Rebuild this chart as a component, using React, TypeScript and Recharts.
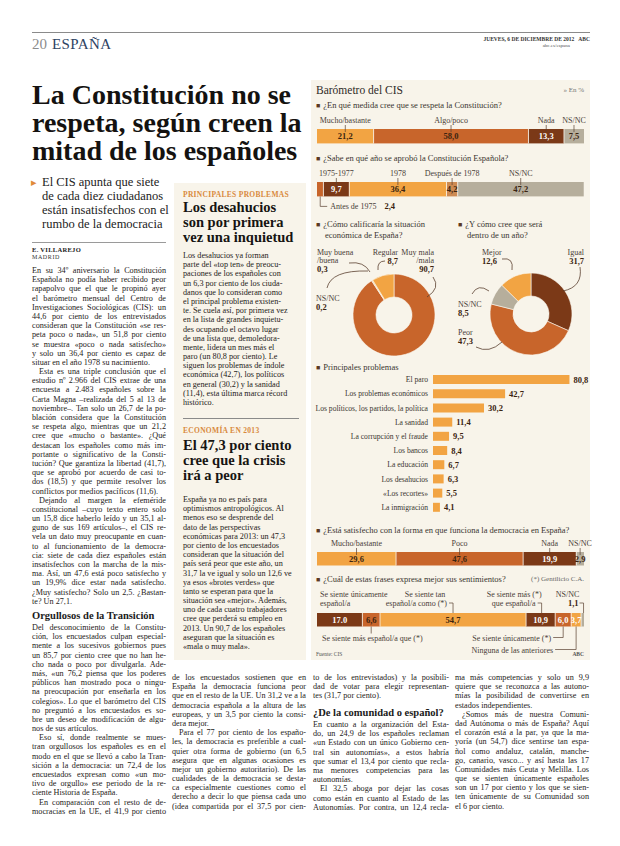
import React from 'react';
import { BarChart, Bar, XAxis, YAxis, PieChart, Pie, Cell, LabelList } from 'recharts';

const SERIF = '"Liberation Serif", "Times New Roman", serif';
const LIGHT = '#f2a443';
const RUST = '#c8652b';
const BROWN = '#7b3917';
const GRAY = '#b6ae9c';
const TAN = '#cd8a52';
const INK = '#3a3530';
const VAL_DARK = '#3b2410';
const LINE = '#5a4030';
const CREAM = '#f8f4ea';

// ---------- data ----------
const respetaLabels = ['Mucho/bastante', 'Algo/poco', 'Nada', 'NS/NC'];
const respetaValues = [21.2, 58.0, 13.3, 7.5];
const anioLabels = ['Antes de 1975', '1975-1977', '1978', 'Después de 1978', 'NS/NC'];
const anioValues = [2.4, 9.7, 36.4, 4.2, 47.2];
const situacionLabels = ['Muy mala|/mala', 'NS/NC', 'Muy buena|/buena', 'Regular'];
const situacionValues = [90.7, 0.2, 0.3, 8.7];
const futuroLabels = ['Igual', 'Peor', 'NS/NC', 'Mejor'];
const futuroValues = [31.7, 47.3, 8.5, 12.6];
const problemasLabels = [
  'El paro', 'Los problemas económicos', 'Los políticos, los partidos, la política', 'La sanidad',
  'La corrupción y el fraude', 'Los bancos', 'La educación', 'Los desahucios', '«Los recortes»', 'La inmigración',
];
const problemasValues = [80.8, 42.7, 30.2, 11.4, 9.5, 8.4, 6.7, 6.3, 5.5, 4.1];
const democraciaLabels = ['Mucho/bastante', 'Poco', 'Nada', 'NS/NC'];
const democraciaValues = [29.6, 47.6, 19.9, 2.9];
const sentimientoLabels = [
  'Se siente únicamente|español/a', 'Se siente más español/a que (*)', 'Se siente tan|español/a como (*)',
  'Se siente más (*)|que español/a', 'Se siente únicamente (*)', 'Ninguna de las anteriores', 'NS/NC',
];
const sentimientoValues = [17.0, 6.6, 54.7, 10.9, 6.0, 3.7, 1.1];
const sentimientoValueText = ['17.0', '6,6', '54,7', '10,9', '6,0', '3,7', ''];

const fmt = (v: number) => v.toFixed(1).replace('.', ',');

// ---------- text ----------
const deckLines = ['El CIS apunta que siete', 'de cada diez ciudadanos', 'están insatisfechos con el', 'rumbo de la democracia'];
const titleLines = ['La Constitución no se', 'respeta, según creen la', 'mitad de los españoles'];

const col1a = [
  'En su 34º aniversario la Constitución', 'Española no podía haber recibido peor', 'rapapolvo que el que le propinó ayer',
  'el barómetro mensual del Centro de', 'Investigaciones Sociológicas (CIS): un', '44,6 por ciento de los entrevistados',
  'consideran que la Constitución «se res-', 'peta poco o nada», un 51,8 por ciento', 'se muestra «poco o nada satisfecho»',
  'y solo un 36,4 por ciento es capaz de', 'situar en el año 1978 su nacimiento.¶',
  '\tEsta es una triple conclusión que el', 'estudio nº 2.966 del CIS extrae de una', 'encuesta a 2.483 españoles sobre la',
  'Carta Magna –realizada del 5 al 13 de', 'noviembre–. Tan solo un 26,7 de la po-', 'blación considera que la Constitución',
  'se respeta algo, mientras que un 21,2', 'cree que «mucho o bastante». ¿Qué', 'destacan los españoles como más im-',
  'portante o significativo de la Consti-', 'tución? Que garantiza la libertad (41,7),', 'que se aprobó por acuerdo de casi to-',
  'dos (18,5) y que permite resolver los', 'conflictos por medios pacíficos (11,6).¶',
  '\tDejando al margen la efeméride', 'constitucional –cuyo texto entero solo', 'un 15,8 dice haberlo leído y un 35,1 al-',
  'guno de sus 169 artículos–, el CIS re-', 'vela un dato muy preocupante en cuan-', 'to al funcionamiento de la democra-',
  'cia: siete de cada diez españoles están', 'insatisfechos con la marcha de la mis-', 'ma. Así, un 47,6 está poco satisfecho y',
  'un 19,9% dice estar nada satisfecho.', '¿Muy satisfecho? Solo un 2,5. ¿Bastan-', 'te? Un 27,1.¶',
];
const col1b = [
  'Del desconocimiento de la Constitu-', 'ción, los encuestados culpan especial-', 'mente a los sucesivos gobiernos pues',
  'un 85,7 por ciento cree que no han he-', 'cho nada o poco por divulgarla. Ade-', 'más, «un 76,2 piensa que los poderes',
  'públicos han mostrado poca o ningu-', 'na preocupación por enseñarla en los', 'colegios». Lo que el barómetro del CIS',
  'no preguntó a los encuestados es so-', 'bre un deseo de modificación de algu-', 'nos de sus artículos.¶',
  '\tEso sí, donde realmente se mues-', 'tran orgullosos los españoles es en el', 'modo en el que se llevó a cabo la Tran-',
  'sición a la democracia: un 72,4 de los', 'encuestados expresan como «un mo-', 'tivo de orgullo» ese periodo de la re-',
  'ciente Historia de España.¶', '\tEn comparación con el resto de de-', 'mocracias en la UE, el 41,9 por ciento',
];
const side1 = [
  'Los desahucios ya forman', 'parte del «top ten» de preocu-', 'paciones de los españoles con', 'un 6,3 por ciento de los ciuda-',
  'danos que lo consideran como', 'el principal problema existen-', 'te. Se cuela así, por primera vez', 'en la lista de grandes inquietu-',
  'des ocupando el octavo lugar', 'de una lista que, demoledora-', 'mente, lidera un mes más el', 'paro (un 80,8 por ciento). Le',
  'siguen los problemas de índole', 'económica (42,7), los políticos', 'en general (30,2) y la sanidad', '(11,4), esta última marca récord',
  'histórico.',
];
const side2 = [
  'España ya no es país para', 'optimismos antropológicos. Al', 'menos eso se desprende del', 'dato de las perspectivas',
  'económicas para 2013: un 47,3', 'por ciento de los encuestados', 'consideran que la situación del', 'país será peor que este año, un',
  '31,7 la ve igual y solo un 12,6 ve', 'ya esos «brotes verdes» que', 'tanto se esperan para que la', 'situación sea «mejor». Además,',
  'uno de cada cuatro trabajadores', 'cree que perderá su empleo en', '2013. Un 90,7 de los españoles', 'aseguran que la situación es',
  '«mala o muy mala».',
];
const col2 = [
  'de los encuestados sostienen que en', 'España la democracia funciona peor', 'que en el resto de la UE. Un 31,2 ve a la',
  'democracia española a la altura de las', 'europeas, y un 3,5 por ciento la consi-', 'dera mejor.¶',
  '\tPara el 77 por ciento de los españo-', 'les, la democracia es preferible a cual-', 'quier otra forma de gobierno (un 6,5',
  'asegura que en algunas ocasiones es', 'mejor un gobierno autoritario). De las', 'cualidades de la democracia se desta-',
  'ca especialmente cuestiones como el', 'derecho a decir lo que piensa cada uno', '(idea compartida por el 37,5 por cien-',
];
const col3a = ['to de los entrevistados) y la posibili-', 'dad de votar para elegir representan-', 'tes (31,7 por ciento).¶'];
const col3b = [
  'En cuanto a la organización del Esta-', 'do, un 24,9 de los españoles reclaman', '«un Estado con un único Gobierno cen-',
  'tral sin autonomías», a estos habría', 'que sumar el 13,4 por ciento que recla-', 'ma menores competencias para las',
  'autonomías.¶', '\tEl 32,5 aboga por dejar las cosas', 'como están en cuanto al Estado de las', 'Autonomías. Por contra, un 12,4 recla-',
];
const col4 = [
  'ma más competencias y solo un 9,9', 'quiere que se reconozca a las autono-', 'mías la posibilidad de convertirse en',
  'estados independientes.¶', '\t¿Somos más de nuestra Comuni-', 'dad Autónoma o más de España? Aquí',
  'el corazón está a la par, ya que la ma-', 'yoría (un 54,7) dice sentirse tan espa-', 'ñol como andaluz, catalán, manche-',
  'go, canario, vasco... y así hasta las 17', 'Comunidades más Ceuta y Melilla. Los', 'que se sienten únicamente españoles',
  'son un 17 por ciento y los que se sien-', 'ten únicamente de su Comunidad son', 'el 6 por ciento.¶',
];

// ---------- helpers ----------
function Column({ x, y, w, lines, fs = 8.2, lh = 9.2, ragged = false }: any) {
  return (
    <div style={{ position: 'absolute', left: x, top: y, width: w, fontFamily: SERIF, fontSize: fs, color: '#262220' }}>
      {lines.map((raw: string, i: number) => {
        let t = raw;
        let indent = 0;
        let last = ragged;
        if (t.startsWith('\t')) { t = t.slice(1); indent = 7; }
        if (t.endsWith('¶')) { t = t.slice(0, -1); last = true; }
        return (
          <div key={i} style={{
            height: lh, lineHeight: lh + 'px', whiteSpace: 'nowrap', paddingLeft: indent,
            textAlign: last ? 'left' : 'justify', textAlignLast: last ? 'left' : 'justify',
          } as any}>{t}</div>
        );
      })}
    </div>
  );
}

function Txt({ x, y, fs, children, bold, color, right, lh, ls, family }: any) {
  const st: any = {
    position: 'absolute', top: y, fontSize: fs, lineHeight: (lh || Math.round(fs * 1.2)) + 'px',
    fontWeight: bold ? 700 : 400, color: color || INK, whiteSpace: 'nowrap', letterSpacing: ls || 0,
    fontFamily: family || SERIF,
  };
  if (right !== undefined) st.right = 620 - right; else st.left = x;
  return <div style={st}>{children}</div>;
}

const annoSt: any = { fontFamily: SERIF, fontSize: 8, fill: '#4a4038' };
const valSt = (c: string): any => ({ fontFamily: SERIF, fontSize: 8.5, fontWeight: 700, fill: c });

type Seg = { x: number; y: number; w: number; h: number; cx: number; i: number };

const aboveAnno = (label: string, s: Seg) => (
  <g>
    <text x={s.cx} y={s.y - 6} textAnchor="middle" style={annoSt}>{label}</text>
    <line x1={s.cx} x2={s.cx} y1={s.y - 4} y2={s.y + 3} stroke={LINE} strokeWidth={0.7} />
  </g>
);

const PAD_R = 12;

function StackedBar({ values, colors, valueColors, valueText, width, height, barTop, barHeight, anno }: any) {
  const row: any = { k: 'r' };
  values.forEach((v: number, i: number) => { row['s' + i] = v; });
  return (
    <BarChart width={width + PAD_R} height={height} data={[row]} layout="vertical"
      margin={{ top: barTop, right: PAD_R, bottom: height - barTop - barHeight, left: 0 }}
      barCategoryGap={0} barGap={0}>
      <XAxis type="number" domain={[0, 100]} hide />
      <YAxis type="category" dataKey="k" hide />
      {values.map((_v: number, i: number) => (
        <Bar key={i} dataKey={'s' + i} stackId="a" fill={colors[i]} barSize={barHeight} isAnimationActive={false}
          shape={(p: any) => (
            <g>
              <rect x={p.x} y={p.y} width={p.width} height={p.height} fill={colors[i]} />
              {i > 0 && <line x1={p.x} x2={p.x} y1={p.y} y2={p.y + p.height} stroke="#fbf8f0" strokeWidth={0.8} />}
            </g>
          )}>
          <LabelList dataKey={'s' + i} content={(p: any) => {
            const x = Number(p.x), y = Number(p.y), w = Number(p.width), h = Number(p.height);
            const s: Seg = { x, y, w, h, cx: x + w / 2, i };
            const txt = valueText ? valueText[i] : fmt(values[i]);
            return (
              <g>
                {txt ? <text x={s.cx} y={y + h / 2 + 3} textAnchor="middle" style={valSt(valueColors[i])}>{txt}</text> : null}
                {anno(s)}
              </g>
            );
          }} />
        </Bar>
      ))}
    </BarChart>
  );
}

type DonutAnno = { dx: number; dy: number; anchor: string; path: number[][] };

function Donut({ values, labels, colors, annos, width, height, cx, cy }: any) {
  const data = values.map((v: number, i: number) => ({ name: labels[i], value: v }));
  const renderLabel = (p: any) => {
    const i = p.index;
    const a: DonutAnno = annos[i];
    const parts = String(labels[i]).split('|');
    const [s, c, e] = a.path;
    return (
      <g key={'l' + i}>
        <path d={`M${cx + s[0]},${cy + s[1]} Q${cx + c[0]},${cy + c[1]} ${cx + e[0]},${cy + e[1]}`} fill="none" stroke={LINE} strokeWidth={0.8} />
        {parts.map((t, k) => (
          <text key={k} x={cx + a.dx} y={cy + a.dy + k * 8} textAnchor={a.anchor as any} style={annoSt}>{t}</text>
        ))}
        <text x={cx + a.dx} y={cy + a.dy + parts.length * 8 + 1} textAnchor={a.anchor as any} style={valSt(VAL_DARK)}>{fmt(values[i])}</text>
      </g>
    );
  };
  return (
    <PieChart width={width} height={height}>
      <Pie data={data} dataKey="value" cx={cx} cy={cy} innerRadius={18} outerRadius={41} startAngle={90} endAngle={-270}
        isAnimationActive={false} stroke="#fbf8f0" strokeWidth={0.6} labelLine={false} label={renderLabel}>
        {data.map((_d: any, i: number) => <Cell key={i} fill={colors[i]} />)}
      </Pie>
    </PieChart>
  );
}

const situacionAnnos: DonutAnno[] = [
  { dx: 45, dy: -55, anchor: 'end', path: [[44, -33], [52, -22], [38, -13]] },
  { dx: -73, dy: -9, anchor: 'start', path: [[-62, -22], [-58, -40], [-21, -39]] },
  { dx: -72, dy: -55, anchor: 'start', path: [[-40, -47], [-25, -49], [-19, -38]] },
  { dx: 9, dy: -55, anchor: 'end', path: [[-4, -49], [-12, -49], [-11, -40]] },
];
const futuroAnnos: DonutAnno[] = [
  { dx: 58, dy: -54, anchor: 'end', path: [[54, -42], [57, -22], [37, -18]] },
  { dx: -68, dy: 26, anchor: 'start', path: [[-50, 38], [-37, 45], [-24, 33]] },
  { dx: -68, dy: -2, anchor: 'start', path: [[-54, -15], [-48, -26], [-37, -18]] },
  { dx: -44, dy: -54, anchor: 'start', path: [[-24, -50], [-12, -52], [-14, -39]] },
];

const CatTick = (p: any) => (
  <text x={Number(p.x)} y={Number(p.y) + 3} textAnchor="end" style={{ fontFamily: SERIF, fontSize: 7.6, fill: INK }}>
    {p.payload && p.payload.value}
  </text>
);

function Problemas() {
  const data = problemasLabels.map((n, i) => ({ n, v: problemasValues[i] }));
  return (
    <BarChart width={282} height={142} data={data} layout="vertical" margin={{ top: 0, right: 8, bottom: 0, left: 0 }} barCategoryGap={0}>
      <XAxis type="number" domain={[0, 90]} hide />
      <YAxis type="category" dataKey="n" width={122} tickSize={5} tickMargin={0} axisLine={false} tickLine={false}
        interval={0} tick={CatTick} />
      <Bar dataKey="v" fill={LIGHT} barSize={9} isAnimationActive={false}>
        <LabelList dataKey="v" content={(p: any) => (
          <text x={Number(p.x) + Number(p.width) + 4} y={Number(p.y) + Number(p.height) / 2 + 3} style={valSt(VAL_DARK)}>{fmt(Number(p.value))}</text>
        )} />
      </Bar>
    </BarChart>
  );
}

const q6Anno = (s: Seg) => {
  const [l1, l2] = sentimientoLabels[s.i].split('|');
  const yb = s.y + s.h;
  const ln = { fill: 'none', stroke: LINE, strokeWidth: 0.7 };
  switch (s.i) {
    case 0:
      return <g><text x={s.x + 3} y={s.y - 16} style={annoSt}>{l1}</text><text x={s.x + 3} y={s.y - 7} style={annoSt}>{l2}</text></g>;
    case 1:
      return <g><line x1={s.cx} x2={s.cx} y1={yb} y2={yb + 7} {...ln} /><text x={5} y={yb + 14} style={annoSt}>{l1}</text></g>;
    case 2:
      return <g>
        <text x={s.cx - 28} y={s.y - 16} textAnchor="middle" style={annoSt}>{l1}</text>
        <text x={s.cx - 6} y={s.y - 7} textAnchor="end" style={annoSt}>{l2}</text>
        <path d={`M${s.cx - 4},${s.y - 10}H${s.cx}V${s.y}`} {...ln} />
      </g>;
    case 3:
      return <g>
        <text x={s.cx + 1} y={s.y - 16} textAnchor="end" style={annoSt}>{l1}</text>
        <text x={s.cx - 5} y={s.y - 7} textAnchor="end" style={annoSt}>{l2}</text>
        <path d={`M${s.cx - 3},${s.y - 10}H${s.cx + 1}V${s.y}`} {...ln} />
      </g>;
    case 4:
      return <g>
        <text x={s.cx - 12} y={yb + 14} textAnchor="end" style={annoSt}>{l1}</text>
        <path d={`M${s.cx - 10},${yb + 11}H${s.cx}V${yb}`} {...ln} />
      </g>;
    case 5:
      return <g>
        <text x={s.cx - 23} y={yb + 26} textAnchor="end" style={annoSt}>{l1}</text>
        <path d={`M${s.cx - 21},${yb + 23}H${s.cx}V${yb}`} {...ln} />
      </g>;
    default:
      return <g>
        <text x={s.cx - 15} y={s.y - 16} textAnchor="middle" style={annoSt}>{l1}</text>
        <text x={s.cx - 4} y={s.y - 7} textAnchor="end" style={valSt(VAL_DARK)}>{fmt(sentimientoValues[s.i])}</text>
        <path d={`M${s.cx - 3},${s.y - 10}H${s.cx + 1}V${s.y}`} {...ln} />
      </g>;
  }
};

const q2Anno = (s: Seg) => s.i === 0 ? (
  <g>
    <path d={`M${s.cx},${s.y + s.h}V${s.y + s.h + 10}H${s.cx + 7}`} fill="none" stroke={LINE} strokeWidth={0.7} />
    <text x={s.cx + 10} y={s.y + s.h + 13} style={annoSt}>{anioLabels[0]}<tspan dx={8} style={valSt(VAL_DARK)}>{fmt(anioValues[0])}</tspan></text>
  </g>
) : aboveAnno(anioLabels[s.i], s);

const Bullet = () => <span style={{ color: '#5b3a22', fontSize: 7, marginRight: 3 }}>■</span>;

export default function App() {
  const abs = (l: number, t: number): any => ({ position: 'absolute', left: l, top: t });
  return (
    <div style={{ position: 'absolute', left: 0, top: 0, width: 620, height: 846, background: '#fff', overflow: 'hidden', fontFamily: SERIF }}>
      {/* header */}
      <div style={{ position: 'absolute', left: 32, top: 32, width: 558, borderTop: '1.5px solid #8a8a8a' }} />
      <Txt x={32} y={36} fs={15} lh={16} color="#8c8c8c">20</Txt>
      <Txt x={52} y={36} fs={15} lh={16} color="#2e4363" ls={0.4}>ESPAÑA</Txt>
      <Txt right={590} y={36} fs={5.5} lh={6} bold color="#333">JUEVES, 6 DE DICIEMBRE DE 2012 &nbsp;&nbsp;ABC</Txt>
      <Txt right={570} y={43} fs={5} lh={6} color="#555">abc.es/espana</Txt>

      {/* title */}
      <div style={{ position: 'absolute', left: 32, top: 81, fontSize: 28, lineHeight: '28px', fontWeight: 700, color: '#141210', whiteSpace: 'nowrap' }}>
        {titleLines.map((t, i) => <div key={i}>{t}</div>)}
      </div>

      {/* deck */}
      <Txt x={31} y={175} fs={11} lh={14} color="#e08a3a">▸</Txt>
      <div style={{ position: 'absolute', left: 42, top: 175, fontSize: 12.5, lineHeight: '14px', color: '#222', whiteSpace: 'nowrap' }}>
        {deckLines.map((t, i) => <div key={i}>{t}</div>)}
      </div>
      <div style={{ position: 'absolute', left: 32, top: 242, width: 134, borderTop: '1px solid #9a9a9a' }} />
      <Txt x={32} y={246} fs={6.5} lh={8} bold color="#222" ls={0.3}>E. VILLAREJO</Txt>
      <Txt x={32} y={254} fs={6} lh={7} color="#333" ls={0.6}>MADRID</Txt>

      <Column x={32} y={266} w={134} lines={col1a} />
      <Txt x={32} y={609} fs={10.5} lh={13} bold color="#1a1a1a">Orgullosos de la Transición</Txt>
      <Column x={32} y={623} w={134} lines={col1b} />

      {/* sidebar */}
      <div style={{ position: 'absolute', left: 174, top: 183, width: 132, height: 477, background: CREAM }} />
      <Txt x={183} y={190} fs={7.5} lh={9} bold color="#d98a3d" ls={0.3}>PRINCIPALES PROBLEMAS</Txt>
      <div style={{ position: 'absolute', left: 183, top: 200, fontSize: 14.5, lineHeight: '15px', fontWeight: 700, color: '#161412', whiteSpace: 'nowrap' }}>
        <div>Los desahucios</div><div>son por primera</div><div>vez una inquietud</div>
      </div>
      <Column x={183} y={251} w={118} lines={side1} ragged />
      <div style={{ position: 'absolute', left: 183, top: 418, width: 116, borderTop: '1px solid #8a8a8a' }} />
      <Txt x={183} y={426} fs={7.5} lh={9} bold color="#d98a3d" ls={0.3}>ECONOMÍA EN 2013</Txt>
      <div style={{ position: 'absolute', left: 183, top: 438, fontSize: 14.5, lineHeight: '15px', fontWeight: 700, color: '#161412', whiteSpace: 'nowrap' }}>
        <div>El 47,3 por ciento</div><div>cree que la crisis</div><div>irá a peor</div>
      </div>
      <Column x={183} y={495} w={118} lines={side2} ragged />

      {/* bottom columns */}
      <Column x={172} y={673} w={134} lines={col2} />
      <Column x={313} y={673} w={136} lines={col3a} />
      <Txt x={313} y={706} fs={10.5} lh={13} bold color="#1a1a1a">¿De la comunidad o español?</Txt>
      <Column x={313} y={720} w={136} lines={col3b} />
      <Column x={455} y={673} w={134} lines={col4} />

      {/* barometer box */}
      <div style={{ position: 'absolute', left: 311, top: 80, width: 279, height: 580, background: CREAM }} />
      <Txt x={316} y={83} fs={11.5} lh={14} color="#2f2a26">Barómetro del CIS</Txt>
      <Txt right={584} y={86} fs={7} lh={9} color="#777">» En %</Txt>

      <Txt x={316} y={100} fs={8.5} lh={11}><Bullet />¿En qué medida cree que se respeta la Constitución?</Txt>
      <div style={abs(317, 110)}>
        <StackedBar values={respetaValues} colors={[LIGHT, RUST, BROWN, GRAY]} valueColors={[VAL_DARK, VAL_DARK, '#fff', VAL_DARK]}
          width={267} height={36} barTop={18} barHeight={16} anno={(s: Seg) => aboveAnno(respetaLabels[s.i], s)} />
      </div>

      <Txt x={316} y={153} fs={8.5} lh={11}><Bullet />¿Sabe en qué año se aprobó la Constitución Española?</Txt>
      <div style={abs(317, 163)}>
        <StackedBar values={anioValues} colors={[RUST, BROWN, LIGHT, TAN, GRAY]} valueColors={[VAL_DARK, '#fff', VAL_DARK, VAL_DARK, VAL_DARK]}
          valueText={anioValues.map((v, i) => (i === 0 ? '' : fmt(v)))}
          width={267} height={52} barTop={18} barHeight={16} anno={q2Anno} />
      </div>

      <div style={{ position: 'absolute', left: 316, top: 220, fontSize: 8.5, lineHeight: '9.5px', color: INK, whiteSpace: 'nowrap' }}>
        <div><Bullet />¿Cómo calificaría la situación</div><div style={{ paddingLeft: 9 }}>económica de España?</div>
      </div>
      <div style={{ position: 'absolute', left: 458, top: 220, fontSize: 8.5, lineHeight: '9.5px', color: INK, whiteSpace: 'nowrap' }}>
        <div><Bullet />¿Y cómo cree que será</div><div style={{ paddingLeft: 9 }}>dentro de un año?</div>
      </div>
      <div style={abs(311, 245)}>
        <Donut values={situacionValues} labels={situacionLabels} colors={[RUST, GRAY, LIGHT, LIGHT]} annos={situacionAnnos}
          width={140} height={115} cx={78} cy={65} />
      </div>
      <div style={abs(452, 245)}>
        <Donut values={futuroValues} labels={futuroLabels} colors={[BROWN, RUST, GRAY, LIGHT]} annos={futuroAnnos}
          width={138} height={115} cx={74} cy={64} />
      </div>

      <Txt x={316} y={362} fs={8.5} lh={11}><Bullet />Principales problemas</Txt>
      <div style={abs(311, 372)}><Problemas /></div>

      <Txt x={316} y={525} fs={8.5} lh={11}><Bullet />¿Está satisfecho con la forma en que funciona la democracia en España?</Txt>
      <div style={abs(317, 535)}>
        <StackedBar values={democraciaValues} colors={[LIGHT, RUST, BROWN, GRAY]} valueColors={[VAL_DARK, VAL_DARK, '#fff', VAL_DARK]}
          width={267} height={32} barTop={16} barHeight={15} anno={(s: Seg) => aboveAnno(democraciaLabels[s.i], s)} />
      </div>

      <Txt x={316} y={574} fs={8.5} lh={11}><Bullet />¿Cuál de estas frases expresa mejor sus sentimientos?</Txt>
      <Txt right={584} y={575} fs={7} lh={9} color="#666">(*) Gentilicio C.A.</Txt>
      <div style={abs(317, 585)}>
        <StackedBar values={sentimientoValues} colors={[BROWN, RUST, LIGHT, BROWN, RUST, LIGHT, GRAY]}
          valueColors={['#fff', VAL_DARK, VAL_DARK, '#fff', '#fff', '#fff', VAL_DARK]} valueText={sentimientoValueText}
          width={267} height={72} barTop={27} barHeight={15} anno={q6Anno} />
      </div>
      <Txt x={316} y={651} fs={5.5} lh={7} color="#555">Fuente: CIS</Txt>
      <Txt right={584} y={651} fs={5.5} lh={7} bold color="#555">ABC</Txt>
    </div>
  );
}
